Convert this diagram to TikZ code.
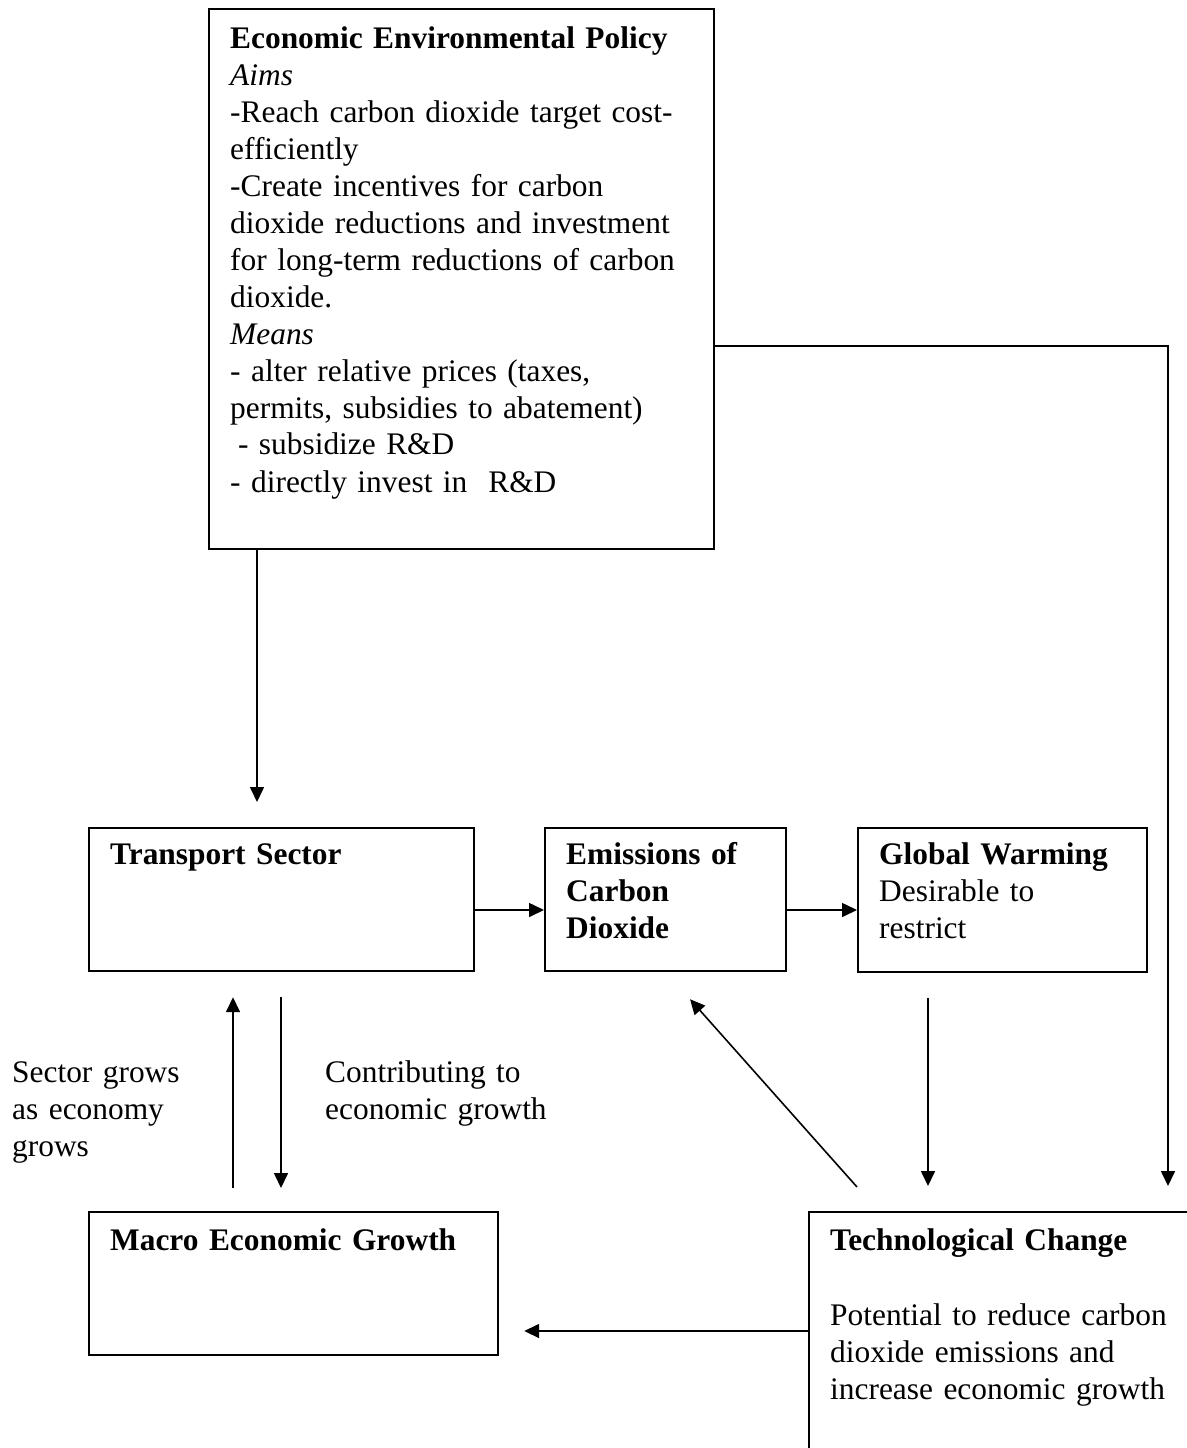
\documentclass[tikz,border=0pt]{standalone}
\usepackage{fontspec}
\setmainfont{Liberation Serif}
\usetikzlibrary{arrows.meta,calc}

\tikzset{
  boxnode/.style={draw, line width=2.2pt, anchor=north west, inner sep=0pt},
  boxtext/.style={anchor=base west, align=left, inner sep=0pt, text width=490pt},
  flow/.style={->, line width=1.6pt},
}

\begin{document}
\begin{tikzpicture}[x=1pt, y=-1pt, >={Triangle[length=15pt,width=14pt]},
  every node/.style={font=\fontsize{31.4}{37}\selectfont}]
\useasboundingbox (0,0) rectangle (1186,1448);

% boxes
\node[boxnode, minimum width=505pt, minimum height=540pt] (policy) at (208,8) {};
\node[boxnode, minimum width=385pt, minimum height=143pt] (transport) at (88,827) {};
\node[boxnode, minimum width=241pt, minimum height=143pt] (emissions) at (544,827) {};
\node[boxnode, minimum width=289pt, minimum height=144pt] (warming) at (857,827) {};
\node[boxnode, minimum width=409pt, minimum height=143pt] (macro) at (88,1211) {};
\node[boxnode, minimum width=420pt, minimum height=300pt] (tech) at (808,1211) {};

% texts in the boxes
\node[boxtext] (policytxt) at (230,48) {\textbf{Economic Environmental Policy}\\
  \textit{Aims}\\
  -Reach carbon dioxide target cost-\\
  efficiently\\
  -Create incentives for carbon\\
  dioxide reductions and investment\\
  for long-term reductions of carbon\\
  dioxide.\\
  \textit{Means}\\
  - alter relative prices (taxes,\\
  permits, subsidies to abatement)\\
  \hspace*{0.25em}- subsidize R\&D\\
  - directly invest in\ \ R\&D};
\node[boxtext] (transporttxt) at (110,864) {\textbf{Transport Sector}};
\node[boxtext] (emissionstxt) at (566,864) {\textbf{Emissions of}\\\textbf{Carbon}\\\textbf{Dioxide}};
\node[boxtext] (warmingtxt) at (879,864) {\textbf{Global Warming}\\Desirable to\\restrict};
\node[boxtext] (macrotxt) at (110,1250) {\textbf{Macro Economic Growth}};
\node[boxtext] (techtxt) at (830,1250) {\textbf{Technological Change}\\[38pt]
  Potential to reduce carbon\\
  dioxide emissions and\\
  increase economic growth};

% side remarks
\node[boxtext] (grows) at (12,1082) {Sector grows\\as economy\\grows};
\node[boxtext] (contrib) at (325,1082) {Contributing to\\economic growth};

% connectors
\draw[flow] ($(policy.south west)+(49,0)$) -- ($(transport.north west)+(169,-25)$);
\draw[flow] ($(policy.north east)+(0,338)$) -| ($(tech.north west)+(360,-25)$);
\draw[flow] ($(transport.north east)+(0,83)$) -- ($(emissions.north west)+(0,83)$);
\draw[flow] ($(emissions.north east)+(0,83)$) -- ($(warming.north west)+(0,83)$);
\draw[flow] ($(macro.north west)+(145,-23)$) -- ($(transport.south west)+(145,25)$);
\draw[flow] ($(transport.south west)+(193,25)$) -- ($(macro.north west)+(193,-23)$);
\draw[flow] ($(warming.south west)+(71,25)$) -- ($(tech.north west)+(120,-25)$);
\draw[flow] ($(tech.north west)+(49,-24)$) -- ($(emissions.south west)+(146,27)$);
\draw[flow] ($(tech.north west)+(0,120)$) -- ($(macro.north east)+(25,120)$);
\end{tikzpicture}
\end{document}
